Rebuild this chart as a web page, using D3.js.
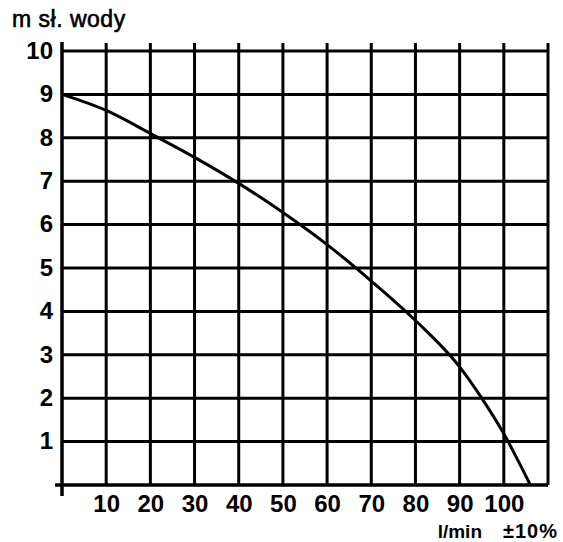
<!DOCTYPE html>
<html lang="pl">
<head>
<meta charset="UTF-8">
<title>Charakterystyka pompy</title>
<script src="https://cdn.jsdelivr.net/npm/d3@7"></script>
<style>
body { margin: 0; background: #fff; }
text { font-family: "Liberation Sans", Arial, sans-serif; fill: #000; }
</style>
</head>
<body>
<script>
// przeplyw [l/min] i wysokosc podnoszenia [m sł. wody]
var flow = [0, 10, 20, 30, 40, 50, 60, 70, 80, 90, 95, 100, 106];
var head = [9, 8.63, 8.1, 7.55, 6.95, 6.28, 5.54, 4.7, 3.79, 2.72, 2.0, 1.18, 0];

var xTicks = [10, 20, 30, 40, 50, 60, 70, 80, 90, 100];
var xGrid = [10, 20, 30, 40, 50, 60, 70, 80, 90, 100, 110];
var yTicks = [1, 2, 3, 4, 5, 6, 7, 8, 9, 10];

var svg = d3.select("body").append("svg")
    .attr("width", 563)
    .attr("height", 542);

var x = d3.scaleLinear().domain([0, 110]).range([62, 548]);
var y = d3.scaleLinear().domain([0, 10]).range([485, 51]);

// siatka pionowa
svg.selectAll("line.vgrid")
    .data(xGrid).enter().append("line")
    .attr("class", "vgrid")
    .attr("x1", function(d) { return x(d); })
    .attr("x2", function(d) { return x(d); })
    .attr("y1", y(10) - 8)
    .attr("y2", y(0))
    .attr("stroke", "#000")
    .attr("stroke-width", 3);

// siatka pozioma
svg.selectAll("line.hgrid")
    .data(yTicks).enter().append("line")
    .attr("class", "hgrid")
    .attr("x1", x(0))
    .attr("x2", x(110))
    .attr("y1", function(d) { return y(d); })
    .attr("y2", function(d) { return y(d); })
    .attr("stroke", "#000")
    .attr("stroke-width", 3);

// osie
svg.append("line")
    .attr("x1", x(0)).attr("x2", x(0))
    .attr("y1", y(10) - 9).attr("y2", y(0) + 11)
    .attr("stroke", "#000").attr("stroke-width", 3.5);

svg.append("line")
    .attr("x1", x(0) - 7).attr("x2", x(110))
    .attr("y1", y(0)).attr("y2", y(0))
    .attr("stroke", "#000").attr("stroke-width", 3.5);

// opisy osi
var yAxis = d3.axisLeft(y).tickValues(yTicks).tickSize(0).tickPadding(9);
var gy = svg.append("g").attr("transform", "translate(" + x(0) + ",0)").call(yAxis);
gy.select(".domain").remove();
gy.selectAll("text")
    .style("font-family", "'Liberation Sans', Arial, sans-serif")
    .style("font-size", "24px")
    .style("font-weight", "bold")
    .attr("dy", "0.3em");

var xAxis = d3.axisBottom(x).tickValues(xTicks).tickSize(0).tickPadding(10);
var gx = svg.append("g").attr("transform", "translate(0," + y(0) + ")").call(xAxis);
gx.select(".domain").remove();
gx.selectAll("text")
    .style("font-family", "'Liberation Sans', Arial, sans-serif")
    .style("font-size", "24px")
    .style("font-weight", "bold");

// krzywa
var points = flow.map(function(f, i) { return [f, head[i]]; });
var line = d3.line()
    .x(function(d) { return x(d[0]); })
    .y(function(d) { return y(d[1]); })
    .curve(d3.curveMonotoneX);

svg.append("path")
    .attr("d", line(points))
    .attr("fill", "none")
    .attr("stroke", "#000")
    .attr("stroke-width", 3);

svg.append("text")
    .attr("x", 12).attr("y", 27)
    .style("font-size", "23px")
    .style("letter-spacing", "0.5px")
    .attr("stroke", "#000")
    .attr("stroke-width", 0.6)
    .text("m sł. wody");

svg.append("text")
    .attr("x", 482).attr("y", 538)
    .attr("text-anchor", "end")
    .style("font-size", "19px")
    .style("font-weight", "bold")
    .text("l/min");

svg.append("text")
    .attr("x", 558).attr("y", 538)
    .attr("text-anchor", "end")
    .style("font-size", "20px")
    .style("font-weight", "bold")
    .style("letter-spacing", "1px")
    .text("±10%");
</script>
</body>
</html>
